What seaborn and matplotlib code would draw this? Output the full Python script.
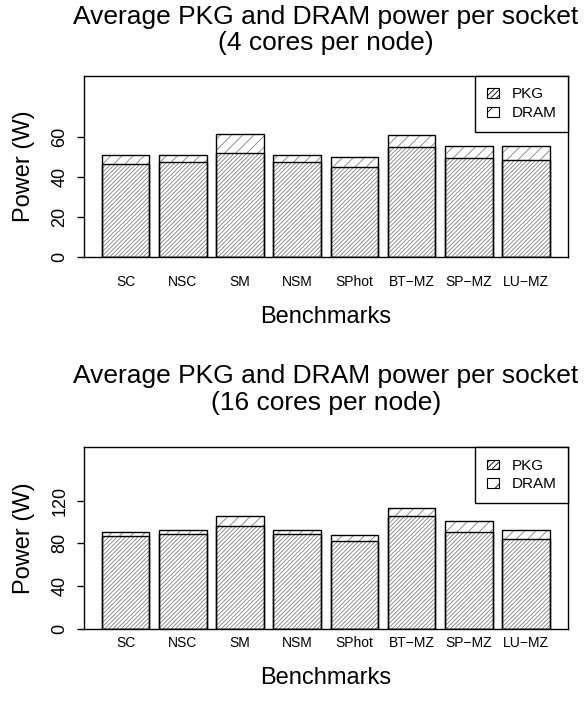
import matplotlib
matplotlib.use("Agg")
import matplotlib.pyplot as plt
import numpy as np
import pandas as pd
import seaborn as sns
from matplotlib.patches import Patch

# ---- data ----
benchmarks = ["SC", "NSC", "SM", "NSM", "SPhot", "BT\u2212MZ", "SP\u2212MZ", "LU\u2212MZ"]
pkg_4 = [46.3, 47.2, 51.8, 47.2, 44.7, 54.8, 49.5, 48.3]
dram_4 = [4.4, 3.6, 9.4, 3.6, 5.0, 6.0, 5.8, 7.0]
pkg_16 = [86.6, 88.4, 95.9, 88.4, 81.9, 105.3, 90.6, 84.4]
dram_16 = [3.7, 4.1, 9.4, 4.1, 5.9, 8.1, 10.7, 7.8]
yticks_4 = [0, 20, 40, 60]
yticks_16 = [0, 40, 80, 120]
series = ["PKG", "DRAM"]

sns.set_style("ticks")
plt.rcParams["font.family"] = ["Liberation Sans", "DejaVu Sans"]
plt.rcParams["hatch.linewidth"] = 0.6
plt.rcParams["axes.linewidth"] = 1.0
for k in ["text.color", "axes.labelcolor", "xtick.color", "ytick.color", "axes.edgecolor"]:
    plt.rcParams[k] = "black"

W, H = 587, 701
fig = plt.figure(figsize=(W / 100, H / 100), dpi=100)

HATCH_PKG = "////////"
HATCH_DRAM = "///"
HATCH_GRAY = "0.5"


def hatched_bars(ax, df, col, hatch):
    n0 = len(ax.patches)
    sns.barplot(data=df, x="Benchmark", y=col, ax=ax, color="white",
                width=1 / 1.2, linewidth=0, hatch=hatch, errorbar=None, saturation=1)
    for p in ax.patches[n0:]:
        p.set_edgecolor(HATCH_GRAY)
        p.set_linewidth(0)


def outline_bars(ax, df, col):
    n0 = len(ax.patches)
    sns.barplot(data=df, x="Benchmark", y=col, ax=ax, color="white",
                width=1 / 1.2, linewidth=1.0, errorbar=None, saturation=1)
    for p in ax.patches[n0:]:
        p.set_facecolor("none")
        p.set_edgecolor("black")
        p.set_linewidth(1.0)


def panel(top_px, bottom_px, pkg, dram, ymax, yticks, title, title_y, tickpad, labelpad):
    left_px, right_px = 83.8, 567.7
    ax = fig.add_axes([left_px / W, 1 - bottom_px / H,
                       (right_px - left_px) / W, (bottom_px - top_px) / H])
    df = pd.DataFrame({"Benchmark": benchmarks, "PKG": pkg, "DRAM": dram})
    df["Total"] = df["PKG"] + df["DRAM"]
    hatched_bars(ax, df, "Total", HATCH_DRAM)
    hatched_bars(ax, df, "PKG", HATCH_PKG)
    outline_bars(ax, df, "Total")
    outline_bars(ax, df, "PKG")
    ax.set_xlim(-0.73, len(benchmarks) - 1 + 0.73)
    ax.set_ylim(0, ymax)
    ax.set_yticks(yticks)
    ax.set_yticklabels([str(t) for t in yticks], rotation=90, va="center")
    ax.tick_params(axis="y", length=5, width=1, pad=6, labelsize=13, color="black")
    ax.tick_params(axis="x", length=0, pad=tickpad, labelsize=10)
    for s in ax.spines.values():
        s.set_visible(True)
        s.set_color("black")
        s.set_linewidth(1.0)
    ax.set_xlabel("Benchmarks", fontsize=17, labelpad=labelpad)
    ax.set_ylabel("Power (W)", fontsize=17, labelpad=12)
    handles = [Patch(facecolor="white", edgecolor="black", hatch=h, linewidth=0.8, label=l)
               for h, l in zip(["//////", "//"], series)]
    leg = ax.legend(handles=handles, loc="upper right", borderaxespad=0,
                    fancybox=False, edgecolor="black", framealpha=1, fontsize=11,
                    handlelength=0.8, handleheight=0.6, handletextpad=0.8,
                    borderpad=0.75, labelspacing=0.3)
    leg.get_frame().set_linewidth(1.0)
    cx = (left_px + right_px) / 2 / W
    fig.text(cx, 1 - title_y / H, title, ha="center", va="center",
             fontsize=19, linespacing=1.15)
    return ax


panel(76, 256.7, pkg_4, dram_4, 90.3, yticks_4,
      "Average PKG and DRAM power per socket\n(4 cores per node)", 30, 13.4, 12)
panel(447.3, 628.7, pkg_16, dram_16, 170, yticks_16,
      "Average PKG and DRAM power per socket\n(16 cores per node)", 389.5, 5.5, 12)

fig.savefig("out.png", dpi=100, facecolor="white")
